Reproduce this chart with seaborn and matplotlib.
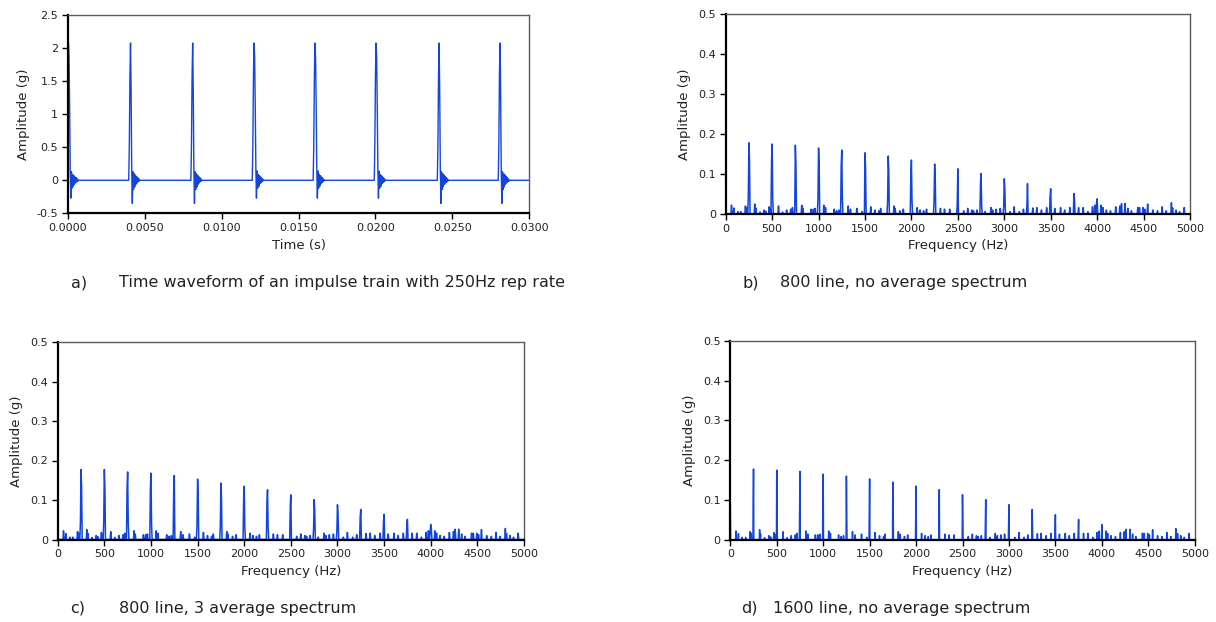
import matplotlib
matplotlib.use('Agg')
import matplotlib.pyplot as plt
import numpy as np
import pandas as pd
import seaborn as sns

sns.set_theme(style='white')
plt.rcParams['font.family'] = ['DejaVu Sans']
plt.rcParams['axes.unicode_minus'] = False

line_blue = '#1244e2'

#%% time waveform data (impulse train, 250 Hz rep rate)
fs = 25600.0
pulse_times = [0.0, 0.00396, 0.0080, 0.01199, 0.01595, 0.01992, 0.02402, 0.02798]
pulse_kind = ['first', 'A', 'A', 'B', 'B', 'B', 'A', 'A']
shape_first = [1.05, 2.09, 1.87, 1.16, 0.18, -0.27, 0.13, -0.12, 0.09, -0.09, 0.07, -0.06, 0.05,
               -0.04, 0.04, -0.02, 0.02, -0.01, 0.0]
shape_A = [0.0, 0.52, 1.57, 2.08, 1.33, 0.17, -0.35, 0.13, -0.14, 0.10, -0.10, 0.08, -0.06, 0.06,
           -0.04, 0.04, -0.02, 0.02, -0.01, 0.0]
shape_B = [0.0, 0.52, 1.57, 2.08, 1.86, 1.13, 0.19, -0.27, 0.14, -0.12, 0.09, -0.09, 0.07, -0.05,
           0.05, -0.03, 0.03, -0.02, 0.01, 0.0]
t_end = 0.03

#%% spectrum data
harm_f = [0, 250, 500, 750, 1000, 1250, 1500, 1750, 2000, 2250, 2500, 2750, 3000, 3250, 3500, 3750, 4000]

# b) 800 line, no average
b_main = [0.092, 0.178, 0.175, 0.172, 0.165, 0.160, 0.153, 0.145, 0.135, 0.125, 0.113, 0.101, 0.088, 0.076, 0.063, 0.051, 0.038]
b_left = [0.0, 0.045, 0.132, 0.010, 0.040, 0.120, 0.0, 0.035, 0.100, 0.032, 0.028, 0.075, 0.020, 0.020, 0.047, 0.0, 0.028]
b_right = [0.0, 0.132, 0.042, 0.128, 0.122, 0.038, 0.113, 0.107, 0.032, 0.092, 0.0, 0.022, 0.062, 0.0, 0.0, 0.035, 0.0]

# c) 800 line, 3 average
c_main = [0.092, 0.177, 0.177, 0.171, 0.168, 0.162, 0.153, 0.143, 0.135, 0.126, 0.113, 0.101, 0.088, 0.076, 0.064, 0.051, 0.038]
c_left = [0.0, 0.045, 0.045, 0.128, 0.125, 0.122, 0.040, 0.035, 0.100, 0.095, 0.085, 0.028, 0.022, 0.058, 0.047, 0.038, 0.020]
c_right = [0.0, 0.132, 0.132, 0.042, 0.042, 0.0, 0.113, 0.107, 0.032, 0.030, 0.0, 0.072, 0.062, 0.0, 0.0, 0.0, 0.028]

# d) 1600 line, no average
d_main = [0.092, 0.178, 0.175, 0.172, 0.165, 0.160, 0.153, 0.145, 0.135, 0.126, 0.113, 0.101, 0.088, 0.076, 0.063, 0.051, 0.038]
d_left = [0.0, 0.090, 0.0, 0.085, 0.125, 0.0, 0.075, 0.0, 0.067, 0.063, 0.0, 0.052, 0.045, 0.0, 0.032, 0.027, 0.0]
d_right = [0.0, 0.0, 0.085, 0.0, 0.0, 0.080, 0.0, 0.107, 0.0, 0.0, 0.055, 0.0, 0.0, 0.035, 0.0, 0.0, 0.0]

# small lines between the harmonics
noise_f = [64, 86, 129, 165, 211, 225, 315, 326, 368, 415, 433, 469, 483, 569, 612, 655, 701, 719,
           816, 834, 916, 941, 962, 1059, 1077, 1166, 1195, 1220, 1316, 1345, 1413, 1470, 1560, 1606,
           1649, 1667, 1810, 1828, 1874, 1910, 2060, 2096, 2132, 2161, 2311, 2357, 2410, 2561, 2607,
           2650, 2668, 2704, 2793, 2854, 2876, 2911, 2954, 3061, 3108, 3161, 3204, 3305, 3347, 3400,
           3454, 3545, 3605, 3651, 3704, 3802, 3849, 3902, 3948, 3973, 4046, 4063, 4099, 4146, 4199,
           4242, 4260, 4303, 4332, 4367, 4439, 4457, 4493, 4511, 4546, 4600, 4647, 4700, 4743, 4797,
           4815, 4851, 4886, 4940]
noise_a = [0.022, 0.015, 0.006, 0.006, 0.020, 0.016, 0.025, 0.015, 0.005, 0.010, 0.007, 0.018, 0.012,
           0.020, 0.005, 0.010, 0.012, 0.016, 0.022, 0.014, 0.012, 0.012, 0.014, 0.022, 0.016, 0.012,
           0.008, 0.010, 0.020, 0.012, 0.014, 0.006, 0.018, 0.010, 0.008, 0.014, 0.020, 0.014, 0.008,
           0.012, 0.016, 0.010, 0.008, 0.012, 0.014, 0.012, 0.012, 0.008, 0.014, 0.010, 0.008, 0.010,
           0.006, 0.016, 0.010, 0.012, 0.014, 0.006, 0.018, 0.006, 0.012, 0.015, 0.016, 0.010, 0.016,
           0.014, 0.016, 0.010, 0.016, 0.016, 0.016, 0.006, 0.018, 0.022, 0.022, 0.016, 0.010, 0.008,
           0.018, 0.020, 0.026, 0.026, 0.014, 0.008, 0.016, 0.016, 0.016, 0.012, 0.025, 0.010, 0.008,
           0.018, 0.008, 0.028, 0.015, 0.010, 0.006, 0.016]

captions = [('a)', 'Time waveform of an impulse train with 250Hz rep rate'),
            ('b)', '800 line, no average spectrum'),
            ('c)', '800 line, 3 average spectrum'),
            ('d)', '1600 line, no average spectrum')]


def waveform_df():
    shapes = {'first': shape_first, 'A': shape_A, 'B': shape_B}
    t, y = [], []
    for t0, kind in zip(pulse_times, pulse_kind):
        for i, v in enumerate(shapes[kind]):
            t.append(t0 + i / fs)
            y.append(v)
    t.append(t_end)
    y.append(0.0)
    return pd.DataFrame({'t': t, 'amp': y})


def spectrum_df(df_hz, mains, lefts, rights):
    bins = {}
    def put(k, a):
        if a > 0:
            bins[k] = max(bins.get(k, 0.0), a)
    for f, a in zip(noise_f, noise_a):
        put(int(round(f / df_hz)), a)
    for f, m, l, r in zip(harm_f, mains, lefts, rights):
        k = int(round(f / df_hz))
        put(k, m)
        put(k - 1, l)
        put(k + 1, r)
    keys = sorted(k for k in bins if k >= 0)
    fx, ay = [], []
    for k in keys:
        if k - 1 not in bins and k > 0:
            fx.append((k - 1) * df_hz); ay.append(0.0)
        fx.append(k * df_hz); ay.append(bins[k])
        if k + 1 not in bins:
            fx.append((k + 1) * df_hz); ay.append(0.0)
    fx.append(5000.0); ay.append(0.0)
    return pd.DataFrame({'f': fx, 'amp': ay})


def style_axes(ax):
    for s in ['left', 'bottom']:
        ax.spines[s].set_color('black')
        ax.spines[s].set_linewidth(1.6)
    for s in ['top', 'right']:
        ax.spines[s].set_color('#5a5a5a')
        ax.spines[s].set_linewidth(1.0)
    ax.tick_params(axis='both', direction='out', length=4.5, width=1, color='black',
                   labelsize=8, pad=2.5, labelcolor='#222222', bottom=True, left=True)
    ax.set_ylabel('Amplitude (g)', fontsize=9.5, labelpad=5, color='#222222')


W, H = 1216, 622
fig = plt.figure(figsize=(W / 100, H / 100), dpi=100)

def add_axes(x0, x1, ytop, ybot):
    return fig.add_axes([x0 / W, 1 - ybot / H, (x1 - x0) / W, (ybot - ytop) / H])

ax_a = add_axes(67.8, 529.3, 15.3, 213.3)
ax_b = add_axes(725.7, 1190.0, 14.0, 214.0)
ax_c = add_axes(57.7, 524.0, 342.0, 539.5)
ax_d = add_axes(730.3, 1194.7, 341.0, 539.7)

# a) time waveform
wf = waveform_df()
sns.lineplot(data=wf, x='t', y='amp', ax=ax_a, color=line_blue, lw=1.0,
             sort=False, estimator=None)
ax_a.set_xlim(0, 0.03)
ax_a.set_ylim(-0.5, 2.5)
a_xticks = [0.0, 0.005, 0.010, 0.015, 0.020, 0.025, 0.030]
ax_a.set_xticks(a_xticks)
ax_a.set_xticklabels(['%.4f' % v for v in a_xticks])
a_yticks = [-0.5, 0, 0.5, 1, 1.5, 2, 2.5]
ax_a.set_yticks(a_yticks)
ax_a.set_yticklabels(['%g' % v for v in a_yticks])
style_axes(ax_a)
ax_a.set_xlabel('Time (s)', fontsize=9.5, labelpad=4, color='#222222')

# spectra
spec_sets = [(ax_b, 6.25, b_main, b_left, b_right),
             (ax_c, 6.25, c_main, c_left, c_right),
             (ax_d, 3.125, d_main, d_left, d_right)]
f_ticks = [0, 500, 1000, 1500, 2000, 2500, 3000, 3500, 4000, 4500, 5000]
amp_ticks = [0, 0.1, 0.2, 0.3, 0.4, 0.5]
for ax, dfz, m, l, r in spec_sets:
    sp = spectrum_df(dfz, m, l, r)
    sns.lineplot(data=sp, x='f', y='amp', ax=ax, color=line_blue, lw=1.1,
                 sort=False, estimator=None, clip_on=False)
    ax.set_xlim(0, 5000)
    ax.set_ylim(0, 0.5)
    ax.set_xticks(f_ticks)
    ax.set_xticklabels([str(v) for v in f_ticks])
    ax.set_yticks(amp_ticks)
    ax.set_yticklabels(['%g' % v for v in amp_ticks])
    style_axes(ax)
    ax.set_xlabel('Frequency (Hz)', fontsize=9.5, labelpad=4, color='#222222')

# captions under each panel
cap_pos = [(70.6, 118.8, 283), (742.9, 780, 283), (70.6, 118.8, 608), (741.5, 773, 608)]
for (lab, txt), (xl, xt, yc) in zip(captions, cap_pos):
    fig.text(xl / W, 1 - yc / H, lab, fontsize=11.5, va='center', ha='left', color='#222222')
    fig.text(xt / W, 1 - yc / H, txt, fontsize=11.5, va='center', ha='left', color='#222222')

fig.savefig('out.png', dpi=100)
